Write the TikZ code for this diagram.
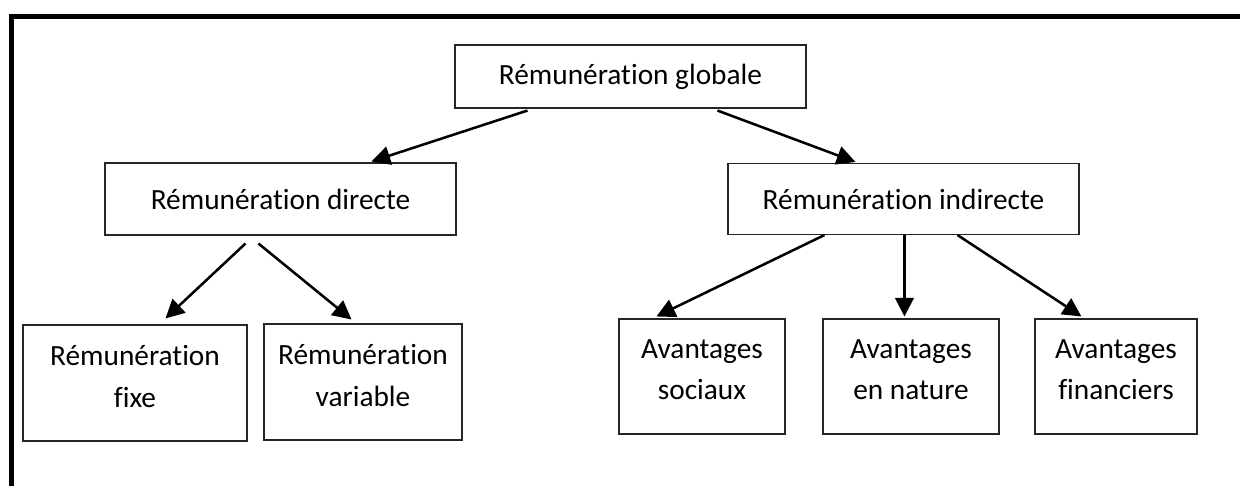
\documentclass[tikz,border=0pt]{standalone}
\usepackage{fontspec}
\setmainfont[Ligatures={NoCommon}]{Carlito}
\usetikzlibrary{arrows.meta,calc}
\begin{document}
\begin{tikzpicture}[x=0.75pt,y=-0.75pt,
  box/.style={draw=black!85,line width=0.8pt,rectangle,inner sep=0pt,align=center,
    font=\fontsize{22}{31}\selectfont},
  arr/.style={line width=1.9pt,-{Triangle[length=14pt,width=14pt]}},
  frame/.style={line width=3.8pt,line join=miter}]
\useasboundingbox (0,0) rectangle (1240,486);
% outer frame (open at the bottom)
\draw[frame] (11.5,486) -- (11.5,16.5) -- (1240,16.5);
% boxes
\node[box,minimum width=351*0.75pt,minimum height=63*0.75pt] (glob) at (630.5,76.5) {Rémunération globale};
\node[box,minimum width=351*0.75pt,minimum height=72*0.75pt] (dir) at (280.5,199) {Rémunération directe};
\node[box,minimum width=351*0.75pt,minimum height=71*0.75pt] (ind) at (903.5,199) {Rémunération indirecte};
\node[box,minimum width=224*0.75pt,minimum height=116*0.75pt] (fixe) at (135,383) {Rémunération\\fixe\\[-21pt]};
\node[box,minimum width=198*0.75pt,minimum height=116*0.75pt] (var) at (363,382) {Rémunération\\variable\\[-21pt]};
\node[box,minimum width=166*0.75pt,minimum height=115*0.75pt] (soc) at (702,376.5) {Avantages\\sociaux\\[-21pt]};
\node[box,minimum width=176*0.75pt,minimum height=115*0.75pt] (nat) at (911,376.5) {Avantages\\en nature\\[-21pt]};
\node[box,minimum width=162*0.75pt,minimum height=115*0.75pt] (fin) at (1116,376.5) {Avantages\\financiers\\[-21pt]};
% connectors
\draw[arr] ($(glob.south west)+(73,2)$) -- ($(dir.north west)+(267,-1)$);
\draw[arr] ($(glob.south west)+(263,2)$) -- ($(ind.north west)+(128,-1)$);
\draw[arr] ($(dir.south west)+(141,8)$) -- ($(fixe.north west)+(143,-6)$);
\draw[arr] ($(dir.south west)+(154,8)$) -- ($(var.north west)+(88,-4)$);
\draw[arr] ($(ind.south west)+(97,0)$) -- ($(soc.north west)+(38,-2)$);
\draw[arr] ($(ind.south west)+(177,0)$) -- ($(nat.north west)+(82,-2)$);
\draw[arr] ($(ind.south west)+(230,0)$) -- ($(fin.north west)+(47,-2)$);
\end{tikzpicture}
\end{document}
